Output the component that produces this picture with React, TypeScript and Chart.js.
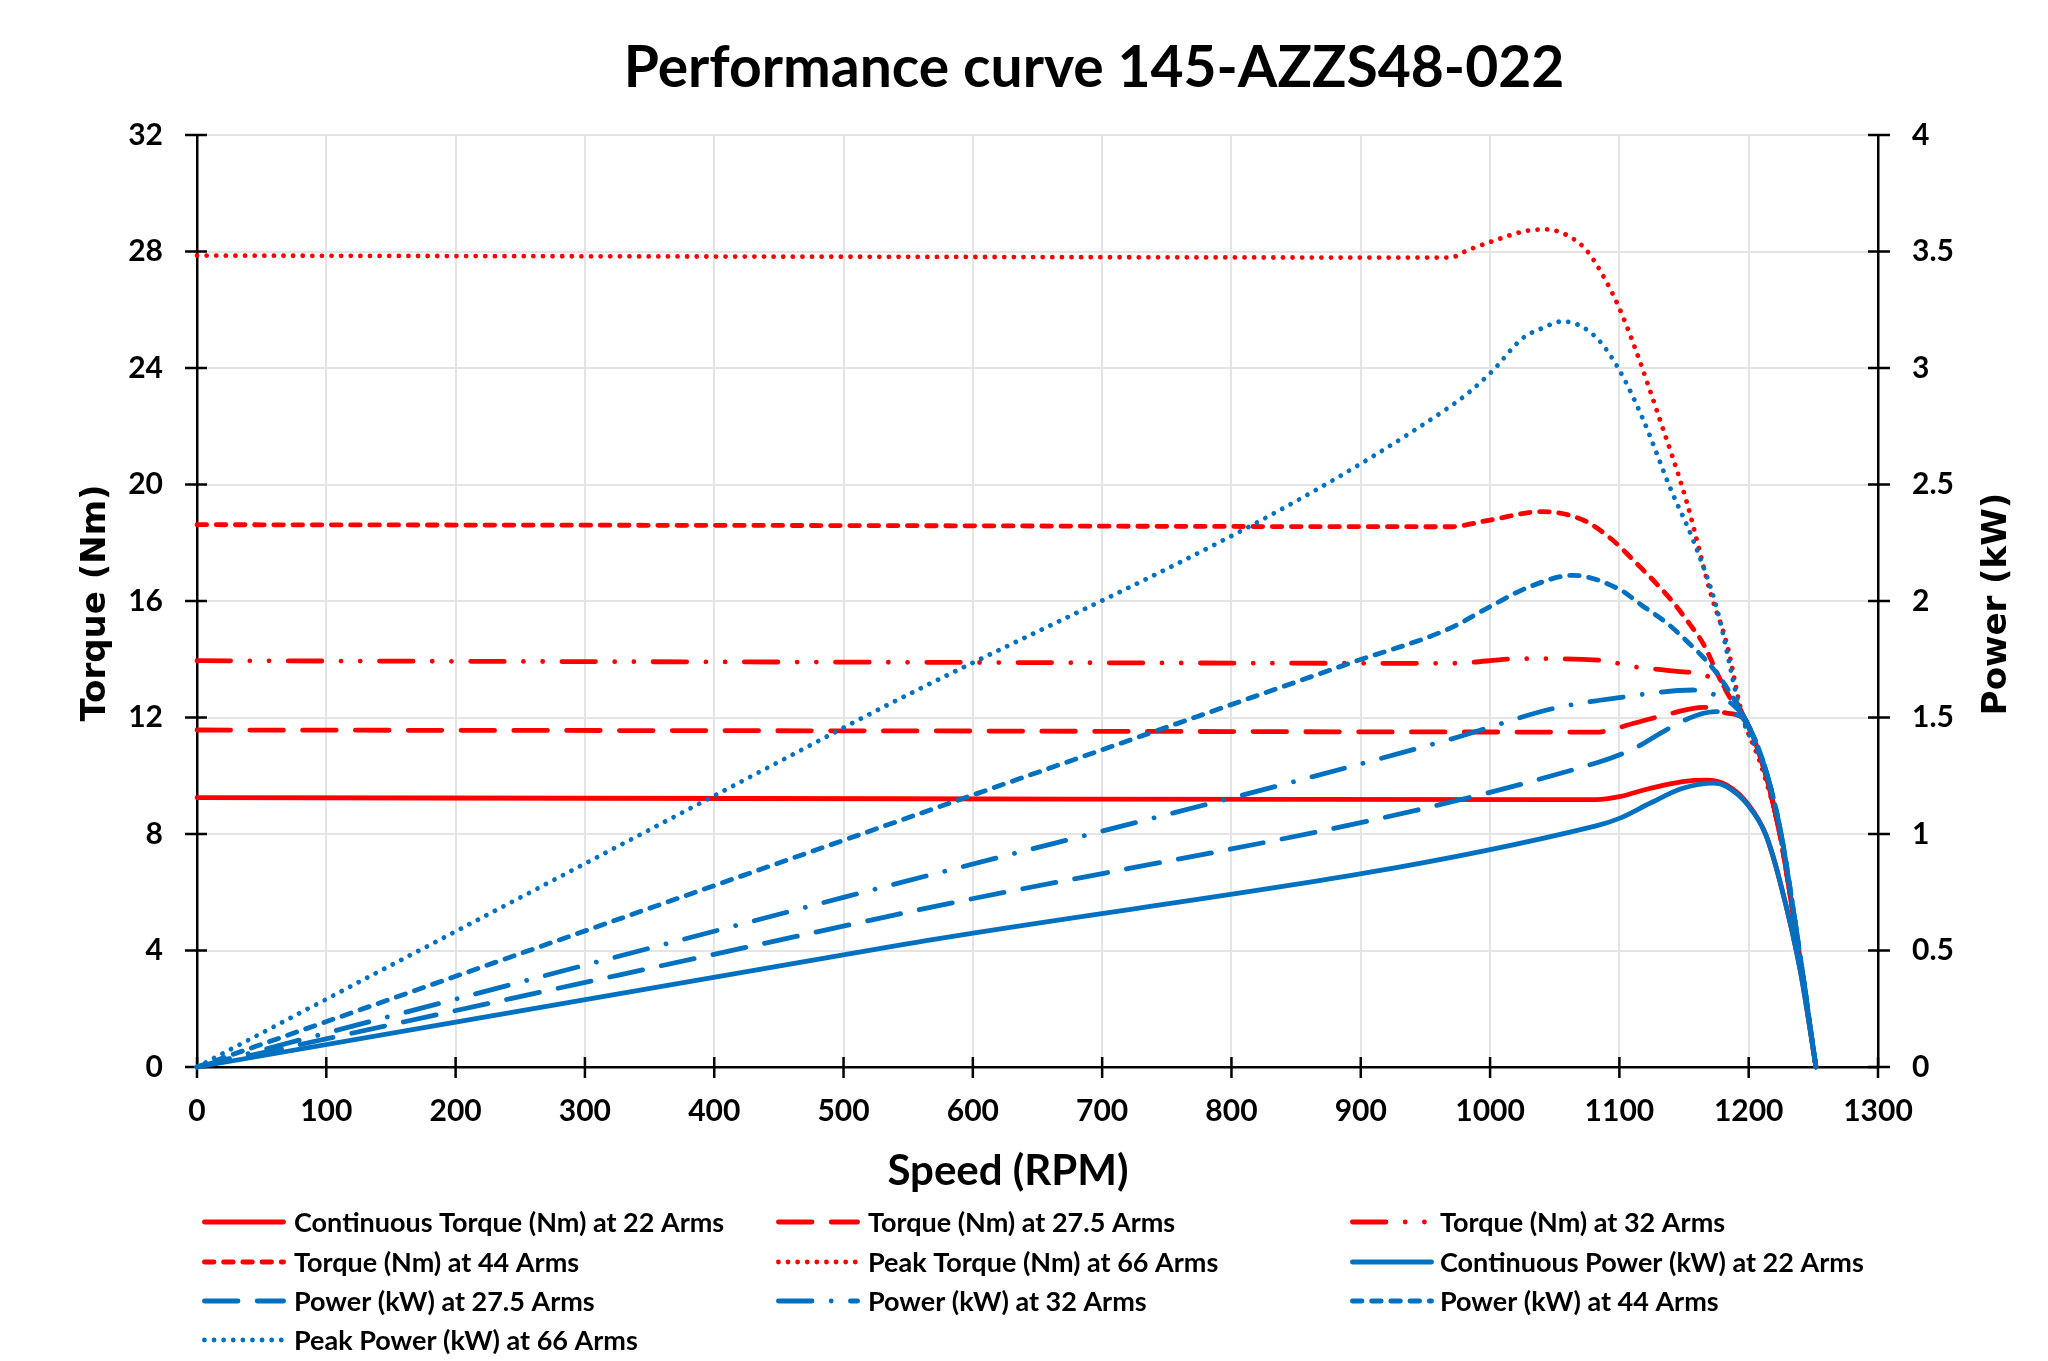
import React, { useEffect, useRef } from 'react';
import { Chart, registerables } from 'chart.js';

Chart.register(...registerables);

const W = 2048;
const H = 1361;
const RED = '#FF0000';
const BLUE = '#0070C0';
const GRID = '#e4e4e4';
const LW = 4.8;

const chartTitle = 'Performance curve 145-AZZS48-022';
const xTitle = 'Speed (RPM)';
const yTitle = 'Torque (Nm)';
const y1Title = 'Power (kW)';

const seriesLabels = [
  'Continuous Torque (Nm) at 22 Arms',
  'Torque (Nm) at 27.5 Arms',
  'Torque (Nm) at 32 Arms',
  'Torque (Nm) at 44 Arms',
  'Peak Torque (Nm) at 66 Arms',
  'Continuous Power (kW) at 22 Arms',
  'Power (kW) at 27.5 Arms',
  'Power (kW) at 32 Arms',
  'Power (kW) at 44 Arms',
  'Peak Power (kW) at 66 Arms',
];

// Torque (Nm) vs speed (RPM)
const t22Rpm = [0, 540, 1082, 1100, 1124, 1149, 1167, 1183, 1200, 1213, 1224, 1240, 1252];
const t22 = [9.25, 9.21, 9.18, 9.28, 9.57, 9.8, 9.85, 9.68, 9.0, 8.0, 6.4, 3.3, 0];

const t27Rpm = [0, 540, 1082, 1112, 1140, 1165, 1183, 1195, 1210, 1224, 1238, 1252];
const t27 = [11.57, 11.54, 11.5, 11.81, 12.14, 12.35, 12.15, 12.0, 10.5, 8.0, 4.2, 0];

const t32Rpm = [0, 500, 969, 1025, 1084, 1112, 1141, 1169, 1187, 1196, 1210, 1224, 1238, 1252];
const t32 = [13.95, 13.9, 13.86, 14.02, 13.97, 13.74, 13.6, 13.4, 12.77, 12.05, 10.5, 8.0, 4.2, 0];

const t44Rpm = [0, 500, 969, 1000, 1040, 1072, 1094, 1112, 1139, 1154, 1165, 1178, 1188, 1196, 1210, 1224, 1238, 1252];
const t44 = [18.62, 18.59, 18.55, 18.78, 19.07, 18.78, 18.12, 17.35, 16.09, 15.23, 14.52, 13.3, 12.5, 12.05, 10.5, 8.0, 4.2, 0];

const t66Rpm = [0, 500, 969, 983, 1005, 1025, 1041, 1055, 1074, 1090, 1100, 1111, 1131, 1152, 1171, 1183, 1195, 1210, 1224, 1238, 1252];
const t66 = [27.86, 27.82, 27.79, 28.05, 28.4, 28.68, 28.76, 28.65, 28.07, 26.96, 26.05, 24.82, 22.27, 19.41, 16.2, 14.55, 12.1, 10.3, 8.0, 4.2, 0];

// Power (kW) vs speed (RPM)
const p22Rpm = [0, 540, 1082, 1100, 1124, 1149, 1173, 1183, 1200, 1213, 1224, 1240, 1252];
const p22 = [0, 0.52, 1.035, 1.067, 1.133, 1.196, 1.218, 1.203, 1.12, 1.0, 0.8, 0.41, 0];

const p27Rpm = [0, 540, 1082, 1112, 1136, 1160, 1175, 1188, 1195, 1210, 1224, 1238, 1252];
const p27 = [0, 0.653, 1.305, 1.369, 1.446, 1.51, 1.525, 1.515, 1.5, 1.33, 1.03, 0.545, 0];

const p32Rpm = [0, 500, 969, 1050, 1100, 1157, 1174, 1187, 1196, 1210, 1224, 1238, 1252];
const p32 = [0, 0.728, 1.406, 1.54, 1.585, 1.618, 1.597, 1.558, 1.505, 1.33, 1.03, 0.545, 0];

const p44Rpm = [0, 500, 891, 969, 1000, 1030, 1064, 1101, 1117, 1137, 1154, 1169, 1180, 1196, 1210, 1224, 1238, 1252];
const p44 = [0, 0.973, 1.732, 1.883, 1.976, 2.06, 2.11, 2.047, 1.983, 1.904, 1.818, 1.733, 1.654, 1.505, 1.33, 1.03, 0.545, 0];

const p66Rpm = [0, 500, 969, 1000, 1025, 1040, 1056, 1080, 1098, 1118, 1140, 1157, 1175, 1195, 1210, 1224, 1238, 1252];
const p66 = [0, 1.456, 2.834, 2.977, 3.127, 3.17, 3.2, 3.142, 3.01, 2.784, 2.476, 2.262, 1.976, 1.5, 1.31, 1.03, 0.545, 0];

// Axis ranges / ticks
const xMin = 0, xMax = 1300, xStep = 100;
const yMin = 0, yMax = 32, yStep = 4;
const y1Min = 0, y1Max = 4, y1Step = 0.5;

// Line styles (Excel presets at width LW, round caps)
const SOLID: number[] = [];
const LG_DASH = [7 * LW, 4 * LW];
const LG_DASH_DOT = [7 * LW, 4 * LW, 0.01, 4 * LW];
const LG_DASH_DOT_DOT = [7 * LW, 4 * LW, 0.01, 4 * LW, 0.01, 4 * LW];
const SYS_DASH = [2 * LW, 2 * LW];
const SYS_DOT = [0.01, 2 * LW];

const seriesRpm = [t22Rpm, t27Rpm, t32Rpm, t44Rpm, t66Rpm, p22Rpm, p27Rpm, p32Rpm, p44Rpm, p66Rpm];
const seriesVal = [t22, t27, t32, t44, t66, p22, p27, p32, p44, p66];
const seriesDash = [SOLID, LG_DASH, LG_DASH_DOT_DOT, SYS_DASH, SYS_DOT, SOLID, LG_DASH, LG_DASH_DOT, SYS_DASH, SYS_DOT];
const seriesColor = [RED, RED, RED, RED, RED, BLUE, BLUE, BLUE, BLUE, BLUE];
const seriesAxis = ['y', 'y', 'y', 'y', 'y', 'y1', 'y1', 'y1', 'y1', 'y1'];

const datasets = seriesLabels.map((label, i) => ({
  label,
  data: seriesRpm[i].map((x, j) => ({ x, y: seriesVal[i][j] })),
  yAxisID: seriesAxis[i],
  borderColor: seriesColor[i],
  backgroundColor: seriesColor[i],
  borderWidth: LW,
  borderDash: seriesDash[i],
  borderCapStyle: 'round' as const,
  borderJoinStyle: 'round' as const,
  cubicInterpolationMode: 'monotone' as const,
  pointRadius: 0,
  fill: false,
  clip: false as const,
  order: seriesLabels.length - i,
}));

const LATO = 'Lato, "Open Sans", sans-serif';
const DEJAVU = '"DejaVu Sans", Verdana, sans-serif';

const legendColX = [202, 776, 1350];
const legendTextX = [294, 868, 1440];
const legendRowY = [1222, 1262, 1301, 1340];

const decor = {
  id: 'decor',
  beforeDatasetsDraw(chart: any) {
    const ctx = chart.ctx;
    const { x, y, y1 } = chart.scales;
    ctx.save();
    ctx.strokeStyle = '#000';
    ctx.lineWidth = 2.5;
    ctx.beginPath();
    y.ticks.forEach((t: any) => {
      const p = y.getPixelForValue(t.value);
      ctx.moveTo(y.right - 12, p);
      ctx.lineTo(y.right + 10, p);
    });
    y1.ticks.forEach((t: any) => {
      const p = y1.getPixelForValue(t.value);
      ctx.moveTo(y1.left - 10, p);
      ctx.lineTo(y1.left + 12, p);
    });
    x.ticks.forEach((t: any) => {
      const p = x.getPixelForValue(t.value);
      ctx.moveTo(p, x.top - 10);
      ctx.lineTo(p, x.top + 11);
    });
    ctx.stroke();
    ctx.restore();
  },
  afterDraw(chart: any) {
    const ctx = chart.ctx;
    ctx.save();
    ctx.fillStyle = '#000';
    // title
    ctx.font = `bold 57px ${LATO}`;
    ctx.textAlign = 'center';
    ctx.textBaseline = 'alphabetic';
    ctx.fillText(chartTitle, 1094, 87);
    // x title
    ctx.font = `bold 42px ${LATO}`;
    ctx.fillText(xTitle, 1008, 1185);
    // y titles
    ctx.font = `bold 34px ${DEJAVU}`;
    ctx.textBaseline = 'middle';
    ctx.save();
    ctx.translate(96, 603);
    ctx.rotate(-Math.PI / 2);
    ctx.fillText(yTitle, 0, 0);
    ctx.restore();
    ctx.save();
    ctx.translate(1997, 604);
    ctx.rotate(-Math.PI / 2);
    ctx.fillText(y1Title, 0, 0);
    ctx.restore();
    // legend
    ctx.textAlign = 'left';
    ctx.textBaseline = 'alphabetic';
    ctx.font = `bold 27px ${LATO}`;
    chart.data.datasets.forEach((ds: any, i: number) => {
      const col = i % 3;
      const row = Math.floor(i / 3);
      const my = legendRowY[row];
      const mx = legendColX[col];
      ctx.save();
      ctx.strokeStyle = ds.borderColor;
      ctx.lineWidth = LW;
      ctx.lineCap = 'round';
      ctx.setLineDash(ds.borderDash);
      ctx.beginPath();
      ctx.moveTo(mx + LW / 2, my);
      ctx.lineTo(mx + 84 - LW / 2, my);
      ctx.stroke();
      ctx.restore();
      ctx.fillStyle = '#000';
      ctx.fillText(ds.label, legendTextX[col], my + 10);
    });
    ctx.restore();
  },
};

const tickFont = { family: LATO, weight: 'bold' as const, size: 30 };

export default function App() {
  const ref = useRef<HTMLCanvasElement>(null);
  useEffect(() => {
    const canvas = ref.current;
    if (!canvas) return;
    const chart = new Chart(canvas, {
      type: 'line',
      data: { datasets: datasets as any },
      options: {
        responsive: false,
        animation: false,
        devicePixelRatio: 1,
        events: [],
        layout: { padding: { top: 135, left: 0, right: 0, bottom: 0 } },
        plugins: {
          legend: { display: false },
          title: { display: false },
          tooltip: { enabled: false },
        },
        scales: {
          x: {
            type: 'linear',
            min: xMin,
            max: xMax,
            ticks: {
              stepSize: xStep,
              autoSkip: false,
              maxRotation: 0,
              padding: 26,
              font: tickFont,
              color: '#000',
              callback: (v: any) => String(v),
            },
            grid: { color: GRID, lineWidth: 2, drawTicks: false },
            border: { display: true, color: '#000', width: 2.5 },
            afterFit: (s: any) => {
              s.height = H - 1067;
            },
          },
          y: {
            type: 'linear',
            position: 'left',
            min: yMin,
            max: yMax,
            ticks: {
              stepSize: yStep,
              padding: 34,
              font: tickFont,
              color: '#000',
              callback: (v: any) => String(v),
            },
            grid: { color: GRID, lineWidth: 2, drawTicks: false },
            border: { display: true, color: '#000', width: 2.5 },
            afterFit: (s: any) => {
              s.width = 197;
            },
          },
          y1: {
            type: 'linear',
            position: 'right',
            min: y1Min,
            max: y1Max,
            ticks: {
              stepSize: y1Step,
              padding: 34,
              font: tickFont,
              color: '#000',
              callback: (v: any) => String(v),
            },
            grid: { display: false, drawTicks: false },
            border: { display: true, color: '#000', width: 2.5 },
            afterFit: (s: any) => {
              s.width = W - 1878;
            },
          },
        },
      },
      plugins: [decor],
    });
    return () => chart.destroy();
  }, []);
  return (
    <div style={{ position: 'absolute', left: 0, top: 0, width: W, height: H, background: '#fff' }}>
      <canvas ref={ref} width={W} height={H} style={{ display: 'block', width: W, height: H }} />
    </div>
  );
}
